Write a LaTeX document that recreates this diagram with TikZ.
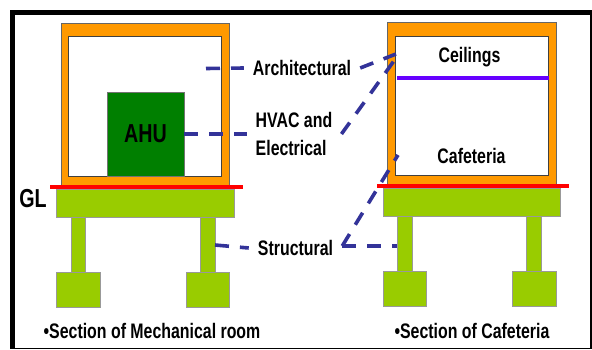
\documentclass[tikz,border=0pt]{standalone}
\usepackage{fontspec}
\setmainfont{Liberation Sans}[FakeStretch=0.757]
\usetikzlibrary{calc}
\definecolor{wallorange}{HTML}{FF9900}
\definecolor{slabgreen}{HTML}{99CC00}
\definecolor{ahugreen}{HTML}{007F00}
\definecolor{leaderblue}{HTML}{333399}
\definecolor{ceilviolet}{HTML}{6600FF}

\begin{document}
\begin{tikzpicture}[
  x=1pt, y=-1pt,
  wall/.style={rectangle, draw=black!60, line width=0.8pt, fill=wallorange, inner sep=0pt},
  room/.style={rectangle, draw=black!75, line width=0.8pt, fill=white, inner sep=0pt},
  concrete/.style={rectangle, draw=black!40, line width=0.9pt, fill=slabgreen, inner sep=0pt},
  unit/.style={rectangle, draw=black!55, line width=0.8pt, fill=ahugreen, inner sep=0pt,
    font=\fontsize{26}{28}\selectfont\bfseries},
  tag/.style={inner sep=0pt, font=\fontsize{21}{28}\selectfont\bfseries},
  leadertag/.style={tag, inner xsep=9pt, inner ysep=0pt},
  leader/.style={draw=leaderblue, line width=3.6pt, dash pattern=on 14pt off 11pt},
  ground/.style={draw=red, line width=3.8pt}
]
\useasboundingbox (0,0) rectangle (592,349);
\fill[black] (10,10) rectangle (591.6,349);
\fill[white] (15,15) rectangle (590.4,348);

% mechanical room
\node[wall, minimum width=168pt, minimum height=166pt] (wallA) at (145.5,106) {};
\node[room, minimum width=153pt, minimum height=139.5pt] (roomA) at (145.2,106.5) {};
\node[unit, minimum width=77pt, minimum height=84pt] (ahu) at (145.5,134) {AHU};
\node[concrete, minimum width=178.5pt, minimum height=28pt] (slabA) at (145.2,203) {};
\node[concrete, minimum width=14.5pt, minimum height=55.5pt] (colAa) at (78.2,244.7) {};
\node[concrete, minimum width=14.5pt, minimum height=55.5pt] (colAb) at (207.7,244.7) {};
\node[concrete, minimum width=44pt, minimum height=35pt] (footAa) at (78,290) {};
\node[concrete, minimum width=43.5pt, minimum height=35pt] (footAb) at (207.7,290) {};
\coordinate (gndAl) at (50,187.3);
\coordinate (gndAr) at (243,187.3);
\draw[ground] (gndAl) -- (gndAr);

% cafeteria
\node[wall, minimum width=168.3pt, minimum height=166pt] (wallB) at (471.8,105) {};
\node[room, minimum width=153pt, minimum height=139pt] (roomB) at (471.8,105.5) {};
\node[concrete, minimum width=177.7pt, minimum height=28pt] (slabB) at (471.8,202.5) {};
\node[concrete, minimum width=14.7pt, minimum height=55.2pt] (colBa) at (404.7,244.1) {};
\node[concrete, minimum width=14.8pt, minimum height=55.2pt] (colBb) at (534.1,244.1) {};
\node[concrete, minimum width=43.7pt, minimum height=35pt] (footBa) at (404.8,289.2) {};
\node[concrete, minimum width=43.7pt, minimum height=35pt] (footBb) at (534.1,289.2) {};
\coordinate (gndBl) at (377,186.3);
\coordinate (gndBr) at (569.3,186.3);
\draw[ground] (gndBl) -- (gndBr);
\coordinate (ceilL) at (397,78);
\coordinate (ceilR) at (549.3,78);
\draw[draw=ceilviolet, line width=3.4pt] (ceilL) -- (ceilR);

% texts
\node[tag] (ceilings) at (469.5,57.5) {Ceilings};
\node[tag] (cafeteria) at (471.5,156) {Cafeteria};
\node[tag, font=\fontsize{26}{28}\selectfont\bfseries] (gl) at (33,198.5) {GL};
\node[leadertag] (archtag) at (302,68) {Architectural};
\node[leadertag, align=left] (hvactag) at (294,134) {HVAC and\\Electrical};
\node[leadertag] (structtag) at (295.5,248) {Structural};
\node[tag] (capA) at (152,330.5) {\textbullet Section of Mechanical room};
\node[tag] (capB) at (472,330.5) {\textbullet Section of Cafeteria};

% leaders
\coordinate (archA) at (206,68.5);
\coordinate (archB) at (396,54);
\coordinate (hvacB) at (396,58);
\coordinate (cafeB) at (398,155);
\coordinate (colAe) at (215,245);
\coordinate (colBw) at (396.5,246);
\coordinate (structE) at ($(structtag.east)+(0,-2)$);
\draw[leader] (archA) -- (archtag.west);
\draw[leader] (archtag.east) -- (archB);
\draw[leader] (ahu.east) -- (hvactag.west);
\draw[leader] (hvactag.east) -- (hvacB);
\draw[leader] (colAe) -- (structtag.west);
\draw[leader] (structE) -- (cafeB);
\draw[leader] (structE) -- (colBw);
\end{tikzpicture}
\end{document}
